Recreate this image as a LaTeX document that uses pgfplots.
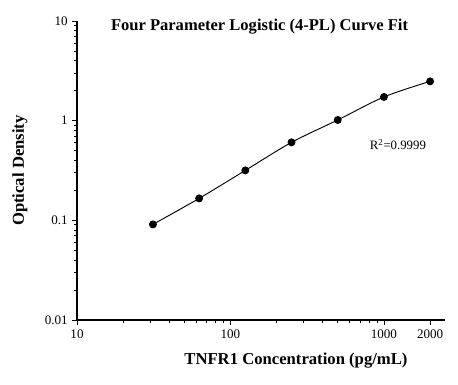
\documentclass[border=0pt]{standalone}
\usepackage{pgfplots}
\pgfplotsset{compat=1.18}
\usepackage{fontspec}
\setmainfont{Liberation Serif}
\begin{document}
\begin{tikzpicture}
\useasboundingbox (-57.75pt,-48.75pt) rectangle (285.75pt,240pt);
\begin{axis}[
  at={(0pt,0pt)}, anchor=south west,
  scale only axis,
  width=276pt, height=224.25pt,
  xmode=log, ymode=log,
  xmin=10, xmax=2500, ymin=0.01, ymax=10,
  axis x line*=bottom, axis y line*=left,
  axis line style={line width=0.8pt},
  tick align=outside,
  xtick={10,100,1000,2000},
  xticklabels={10,100,1000,2000},
  minor xtick={20,30,40,50,60,70,80,90,200,300,400,500,600,700,800,900},
  ytick={0.01,0.1,1,10},
  yticklabels={0.01,0.1,1,10},
  minor ytick={0.02,0.03,0.04,0.05,0.06,0.07,0.08,0.09,0.2,0.3,0.4,0.5,0.6,0.7,0.8,0.9,2,3,4,5,6,7,8,9},
  major tick length=3.5pt, minor tick length=2pt,
  tick style={black, line width=0.6pt},
  /pgf/number format/assume math mode=true,
  tick label style={font=\fontsize{9.8}{11}\selectfont},
  xlabel={TNFR1 Concentration (pg/mL)},
  ylabel={Optical Density},
  label style={font=\fontsize{12.5}{14}\selectfont\bfseries},
  xlabel style={at={(rel axis cs:0.595,-0.134)}, anchor=center},
  ylabel style={at={(rel axis cs:-0.155,0.5)}, anchor=center, rotate=0},
  clip=false,
]
\addplot[black, line width=0.7pt, smooth, mark=*, mark size=2.6pt]
  coordinates {(31.25,0.091) (62.5,0.166) (125,0.317) (250,0.606) (500,1.016) (1000,1.73) (2000,2.48)};
\node[font=\fontsize{12.4}{14}\selectfont\bfseries] at (rel axis cs:0.496,0.98) {Four Parameter Logistic (4-PL) Curve Fit};
\node[font=\fontsize{9.6}{11}\selectfont] at (axis cs:1233,0.575) {R\textsuperscript{2}=0.9999};
\end{axis}
\end{tikzpicture}
\end{document}
